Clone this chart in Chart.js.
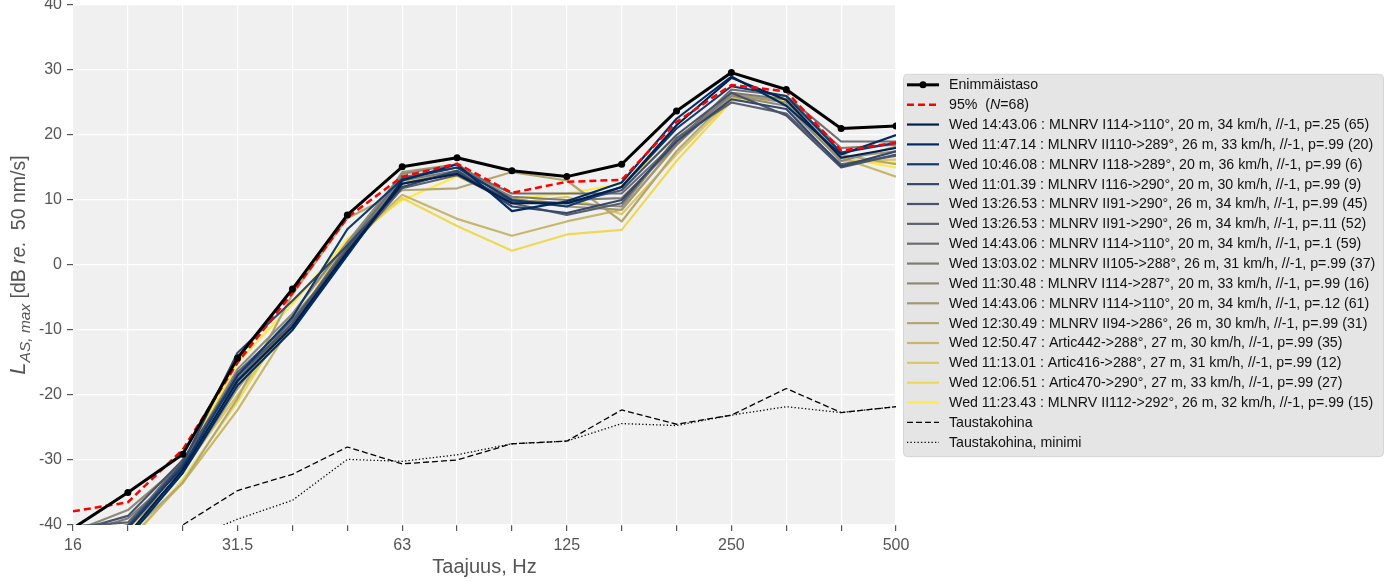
<!DOCTYPE html>
<html>
<head>
<meta charset="utf-8">
<script src="https://cdn.jsdelivr.net/npm/chart.js@4.4.1/dist/chart.umd.min.js"></script>
<style>
  html, body { margin: 0; padding: 0; background: #fff; }
  #wrap { width: 1392px; height: 581px; }
</style>
</head>
<body>
<div id="wrap"><canvas id="chart" width="1392" height="581"></canvas></div>
<script>
// Terssikaistat (Hz) ja näytettävät tick-otsikot
const FREQS = ["16", "20", "25", "31.5", "40", "50", "63", "80", "100", "125", "160", "200", "250", "315", "400", "500"];
const FREQ_TICKS_SHOWN = ["16", "31.5", "63", "125", "250", "500"];
const Y_MIN = -40;
const Y_MAX = 40;
const Y_STEP = 10;

const MAX_LEVEL = [-40.5, -35.0, -29.1, -14.3, -3.7, 7.7, 15.1, 16.5, 14.5, 13.6, 15.5, 23.7, 29.6, 27.0, 21.0, 21.4];
const P95_LEVEL = [-37.9, -36.5, -28.4, -15.0, -4.3, 7.3, 13.6, 15.6, 11.1, 12.8, 13.1, 22.0, 27.7, 26.7, 17.6, 18.8];
const NOISE = [-46.0, -43.0, -40.0, -34.7, -32.2, -28.0, -30.6, -30.0, -27.5, -27.1, -22.3, -24.5, -23.1, -19.0, -22.7, -21.8];
const NOISE_MIN = [-47.0, -45.0, -42.6, -39.1, -36.2, -29.9, -30.2, -29.2, -27.5, -27.1, -24.4, -24.7, -23.1, -21.8, -22.7, -21.8];

const PASS_LABELS = [
    "Wed 14:43.06 : MLNRV I114->110°, 20 m, 34 km/h, //-1, p=.25 (65)",
    "Wed 11:47.14 : MLNRV II110->289°, 26 m, 33 km/h, //-1, p=.99 (20)",
    "Wed 10:46.08 : MLNRV I118->289°, 20 m, 36 km/h, //-1, p=.99 (6)",
    "Wed 11:01.39 : MLNRV I116->290°, 20 m, 30 km/h, //-1, p=.99 (9)",
    "Wed 13:26.53 : MLNRV II91->290°, 26 m, 34 km/h, //-1, p=.99 (45)",
    "Wed 13:26.53 : MLNRV II91->290°, 26 m, 34 km/h, //-1, p=.11 (52)",
    "Wed 14:43.06 : MLNRV I114->110°, 20 m, 34 km/h, //-1, p=.1 (59)",
    "Wed 13:03.02 : MLNRV II105->288°, 26 m, 31 km/h, //-1, p=.99 (37)",
    "Wed 11:30.48 : MLNRV I114->287°, 20 m, 33 km/h, //-1, p=.99 (16)",
    "Wed 14:43.06 : MLNRV I114->110°, 20 m, 34 km/h, //-1, p=.12 (61)",
    "Wed 12:30.49 : MLNRV II94->286°, 26 m, 30 km/h, //-1, p=.99 (31)",
    "Wed 12:50.47 : Artic442->288°, 27 m, 30 km/h, //-1, p=.99 (35)",
    "Wed 11:13.01 : Artic416->288°, 27 m, 31 km/h, //-1, p=.99 (12)",
    "Wed 12:06.51 : Artic470->290°, 27 m, 33 km/h, //-1, p=.99 (27)",
    "Wed 11:23.43 : MLNRV II112->292°, 26 m, 32 km/h, //-1, p=.99 (15)",
];

const PASS_1  = [-44.0, -41.5, -31.5, -17.8, -9.5, 2.0, 12.5, 14.0, 9.5, 9.5, 12.0, 21.5, 28.8, 25.4, 16.5, 18.0];
const PASS_2  = [-45.0, -42.0, -32.0, -18.5, -10.0, 1.5, 13.0, 15.5, 8.3, 9.8, 12.7, 22.5, 29.0, 24.5, 17.0, 20.0];
const PASS_3  = [-43.0, -40.5, -31.0, -17.0, -8.0, 5.5, 13.2, 15.0, 10.0, 9.0, 12.0, 21.0, 27.5, 26.0, 17.3, 18.8];
const PASS_4  = [-42.0, -40.2, -30.5, -13.5, -5.5, 3.0, 12.0, 14.5, 9.0, 8.0, 10.0, 19.0, 25.5, 24.0, 15.2, 17.5];
const PASS_5  = [-41.0, -38.6, -30.0, -17.0, -9.0, 2.5, 12.5, 14.2, 9.8, 9.5, 11.5, 20.0, 26.5, 23.0, 15.0, 17.0];
const PASS_6  = [-40.2, -39.6, -31.0, -16.5, -8.5, 2.0, 11.8, 13.8, 9.5, 7.7, 9.5, 19.5, 25.0, 23.3, 15.5, 16.8];
const PASS_7  = [-42.0, -40.0, -30.0, -17.5, -9.0, 3.0, 13.5, 15.0, 11.0, 11.0, 11.0, 19.0, 27.0, 26.0, 19.0, 19.0];
const PASS_8  = [-41.5, -39.0, -31.5, -18.0, -9.5, 2.5, 13.0, 14.5, 10.5, 10.0, 10.3, 18.5, 26.5, 25.5, 18.0, 18.5];
const PASS_9  = [-41.0, -37.7, -30.5, -16.0, -7.5, 3.5, 14.0, 15.5, 10.0, 9.5, 9.0, 19.5, 26.0, 24.5, 16.0, 18.2];
const PASS_10 = [-43.0, -40.5, -32.0, -19.0, -8.0, 1.5, 14.3, 15.5, 10.2, 9.0, 8.5, 18.5, 26.2, 25.0, 16.5, 17.5];
const PASS_11 = [-44.0, -41.5, -33.5, -20.5, -4.5, 7.2, 11.5, 11.8, 14.3, 13.0, 6.7, 17.5, 26.0, 25.5, 17.0, 15.5];
const PASS_12 = [-45.0, -42.5, -33.5, -22.3, -9.0, 3.0, 10.8, 7.1, 4.5, 6.7, 8.5, 18.5, 26.5, 25.0, 16.5, 13.6];
const PASS_13 = [-44.0, -41.5, -31.5, -20.0, -8.5, 2.0, 12.8, 14.5, 9.5, 10.5, 7.8, 17.0, 25.5, 26.0, 16.0, 16.2];
const PASS_14 = [-46.0, -43.0, -33.0, -21.0, -7.5, 3.0, 10.3, 6.0, 2.2, 4.7, 5.4, 16.0, 25.2, 25.8, 16.0, 15.7];
const PASS_15 = [-44.0, -41.5, -30.5, -15.0, -6.0, 4.0, 10.0, 13.6, 10.2, 11.0, 12.5, 19.5, 25.6, 25.2, 16.5, 15.0];
const PASS_LEVELS = [PASS_1, PASS_2, PASS_3, PASS_4, PASS_5, PASS_6, PASS_7, PASS_8,
    PASS_9, PASS_10, PASS_11, PASS_12, PASS_13, PASS_14, PASS_15];

// cividis-väriskaala 15 ohitukselle
const PASS_COLORS = ["#00204D", "#002C63", "#10396E", "#35476B", "#4A536C", "#5C606E", "#6C6E72",
    "#7D7C76", "#8E8A78", "#A09876", "#B3A771", "#C6B76B", "#DBC860", "#EED954", "#FFEA46"];

const FONT = "'Liberation Sans', Arial, Helvetica, sans-serif";
const AXIS_COLOR = "#555555";

const datasets = [
    {
        label: "Enimmäistaso", data: MAX_LEVEL,
        borderColor: "#000", backgroundColor: "#000", borderWidth: 3,
        pointRadius: 3.5, pointBackgroundColor: "#000", pointBorderWidth: 0,
    },
    {
        label: "95%  (N=68)", data: P95_LEVEL,
        borderColor: "#ff0000", borderWidth: 2.5, borderDash: [7, 4], pointRadius: 0,
    },
    ...PASS_LEVELS.map((levels, i) => ({
        label: PASS_LABELS[i], data: levels,
        borderColor: PASS_COLORS[i], borderWidth: 2.2, pointRadius: 0,
    })),
    {
        label: "Taustakohina", data: NOISE,
        borderColor: "#000", borderWidth: 1.3, borderDash: [6, 3], pointRadius: 0,
    },
    {
        label: "Taustakohina, minimi", data: NOISE_MIN,
        borderColor: "#000", borderWidth: 1.3, borderDash: [1.3, 2.2], pointRadius: 0,
    },
];
datasets.forEach(d => { d.fill = false; d.tension = 0; d.borderJoinStyle = "round"; d.clip = 0; });

// Harmaa piirtoalueen tausta
const plotBackground = {
    id: "plotBackground",
    beforeDraw(chart) {
        const { ctx, chartArea: a } = chart;
        ctx.save();
        ctx.fillStyle = "#fff";
        ctx.fillRect(0, 0, chart.width, chart.height);
        ctx.fillStyle = "#f0f0f0";
        ctx.fillRect(a.left, a.top, a.right - a.left, a.bottom - a.top);
        ctx.restore();
    },
};

// Y-akselin otsikko alaindeksillä
const yAxisTitle = {
    id: "yAxisTitle",
    afterDraw(chart) {
        const { ctx, chartArea: a } = chart;
        const parts = [
            { t: "L", f: `italic 22px ${FONT}`, dy: 0 },
            { t: "AS, max", f: `italic 15.5px ${FONT}`, dy: 5 },
            { t: " [dB ", f: `19.5px ${FONT}`, dy: 0 },
            { t: "re.", f: `italic 19.5px ${FONT}`, dy: 0 },
            { t: "  50 nm/s]", f: `19.5px ${FONT}`, dy: 0 },
        ];
        ctx.save();
        let total = 0;
        parts.forEach(p => { ctx.font = p.f; p.w = ctx.measureText(p.t).width; total += p.w; });
        ctx.translate(25, (a.top + a.bottom) / 2);
        ctx.rotate(-Math.PI / 2);
        ctx.fillStyle = AXIS_COLOR;
        ctx.textBaseline = "alphabetic";
        let x = -total / 2;
        parts.forEach(p => { ctx.font = p.f; ctx.fillText(p.t, x, p.dy); x += p.w; });
        ctx.restore();
    },
};

// Selite harmaassa laatikossa oikealla
const legendBox = {
    id: "legendBox",
    afterDraw(chart) {
        const { ctx, chartArea: a } = chart;
        const items = chart.data.datasets;
        const rowH = 19.86;
        const boxW = 480;
        const boxH = rowH * items.length + 5;
        const left = a.right + 7;
        const top = (a.top + a.bottom) / 2 - boxH / 2;
        ctx.save();
        ctx.beginPath();
        ctx.roundRect(left + 0.5, top + 0.5, boxW, boxH, 4);
        ctx.fillStyle = "#e5e5e5";
        ctx.fill();
        ctx.strokeStyle = "#d6d6d6";
        ctx.lineWidth = 1;
        ctx.stroke();

        items.forEach((d, i) => {
            const cy = top + 11 + i * rowH;
            ctx.save();
            ctx.strokeStyle = d.borderColor;
            ctx.lineWidth = d.borderWidth;
            ctx.setLineDash(d.borderDash || []);
            ctx.beginPath();
            ctx.moveTo(left + 4, cy);
            ctx.lineTo(left + 36, cy);
            ctx.stroke();
            if (d.pointRadius > 0) {
                ctx.fillStyle = d.pointBackgroundColor;
                ctx.beginPath();
                ctx.arc(left + 20, cy, d.pointRadius, 0, Math.PI * 2);
                ctx.fill();
            }
            ctx.restore();

            ctx.fillStyle = "#111";
            ctx.textBaseline = "middle";
            let tx = left + 46;
            const m = d.label.match(/^(.*\()N(=.*)$/);
            const parts = m ? [[m[1], ""], ["N", "italic "], [m[2], ""]] : [[d.label, ""]];
            parts.forEach(([t, style]) => {
                ctx.font = `${style}14.2px ${FONT}`;
                ctx.fillText(t, tx, cy + 0.5);
                tx += ctx.measureText(t).width;
            });
        });
        ctx.restore();
    },
};

new Chart(document.getElementById("chart"), {
    type: "line",
    data: { labels: FREQS, datasets },
    options: {
        responsive: false,
        animation: false,
        devicePixelRatio: 1,
        layout: { padding: { top: 5, right: 496, left: 0, bottom: 0 } },
        plugins: { legend: { display: false }, tooltip: { enabled: false } },
        scales: {
            x: {
                type: "category",
                offset: false,
                grid: { color: "#ffffff", lineWidth: 1.2, tickColor: AXIS_COLOR, tickLength: 6 },
                border: { display: false },
                ticks: {
                    autoSkip: false, maxRotation: 0, color: AXIS_COLOR, padding: 5,
                    font: { family: FONT, size: 16 },
                    callback: (v, i) => (FREQ_TICKS_SHOWN.includes(FREQS[i]) ? FREQS[i] : ""),
                },
                title: {
                    display: true, text: "Taajuus, Hz", color: AXIS_COLOR,
                    font: { family: FONT, size: 20 }, padding: { top: 0, bottom: 2 },
                },
                afterFit: (s) => { s.height = 56; s.paddingLeft = 0; s.paddingRight = 0; },
            },
            y: {
                min: Y_MIN, max: Y_MAX,
                grid: { color: "#ffffff", lineWidth: 1.2, tickColor: AXIS_COLOR, tickLength: 6 },
                border: { display: false },
                ticks: {
                    stepSize: Y_STEP, color: AXIS_COLOR, padding: 5,
                    font: { family: FONT, size: 16 },
                    callback: (v) => String(v),
                },
                afterFit: (s) => { s.width = 73; s.paddingTop = 0; s.paddingBottom = 0; },
            },
        },
    },
    plugins: [plotBackground, yAxisTitle, legendBox],
});
</script>
</body>
</html>
